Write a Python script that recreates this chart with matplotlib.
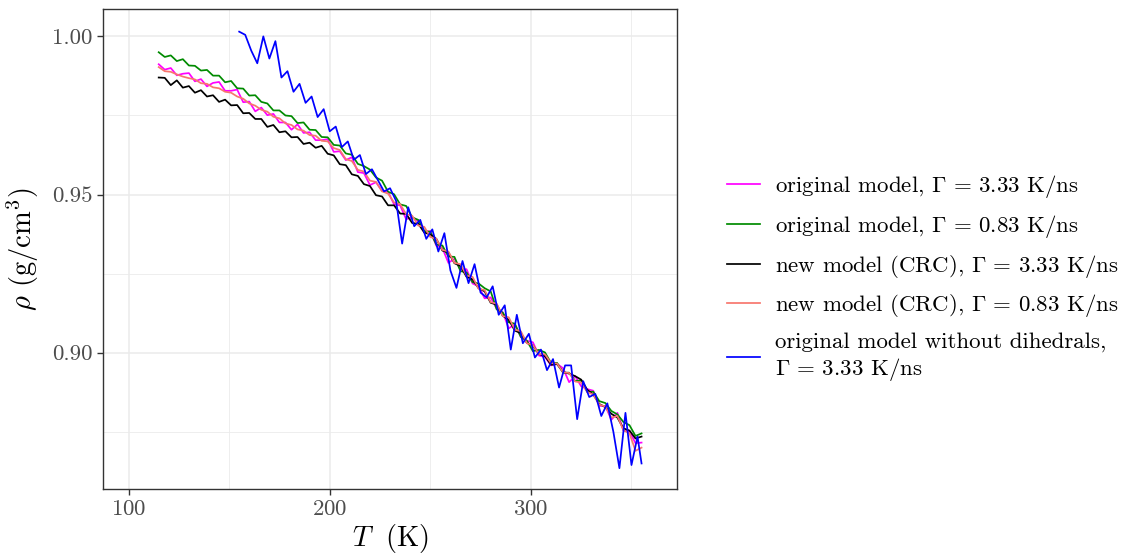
import matplotlib
matplotlib.use("Agg")
import matplotlib.pyplot as plt
from matplotlib.ticker import MultipleLocator

plt.rcParams['font.family'] = ['cmr10', 'DejaVu Serif']
plt.rcParams['mathtext.fontset'] = 'cm'
plt.rcParams['axes.formatter.use_mathtext'] = True
plt.rcParams['axes.unicode_minus'] = False

# ---------------- data ----------------
T = list(range(115, 356, 3))  # temperatures (K) for the four long runs

rho_orig_fast = [
    0.9912, 0.9895, 0.9900, 0.9877, 0.9882, 0.9884, 0.9858, 0.9865, 0.9842, 0.9853,
    0.9856, 0.9828, 0.9828, 0.9832, 0.9792, 0.9794, 0.9763, 0.9775, 0.9751, 0.9755,
    0.9728, 0.9728, 0.9705, 0.9722, 0.9695, 0.9697, 0.9672, 0.9672, 0.9675, 0.9635,
    0.9637, 0.9609, 0.9618, 0.9571, 0.9568, 0.9530, 0.9539, 0.9512, 0.9509, 0.9469,
    0.9466, 0.9422, 0.9428, 0.9416, 0.9381, 0.9385, 0.9338, 0.9331, 0.9284, 0.9297,
    0.9263, 0.9264, 0.9219, 0.9210, 0.9172, 0.9175, 0.9139, 0.9128, 0.9077, 0.9090,
    0.9050, 0.9038, 0.9033, 0.8991, 0.8987, 0.8960, 0.8965, 0.8951, 0.8907, 0.8926,
    0.8894, 0.8885, 0.8880, 0.8832, 0.8832, 0.8788, 0.8810, 0.8754, 0.8752, 0.8714,
    0.8716]

rho_orig_slow = [
    0.9950, 0.9935, 0.9940, 0.9922, 0.9928, 0.9908, 0.9907, 0.9892, 0.9894, 0.9876,
    0.9876, 0.9855, 0.9859, 0.9836, 0.9835, 0.9813, 0.9814, 0.9793, 0.9788, 0.9766,
    0.9766, 0.9750, 0.9748, 0.9726, 0.9728, 0.9705, 0.9704, 0.9682, 0.9681, 0.9657,
    0.9655, 0.9630, 0.9626, 0.9597, 0.9590, 0.9579, 0.9554, 0.9544, 0.9509, 0.9501,
    0.9469, 0.9464, 0.9428, 0.9420, 0.9385, 0.9382, 0.9342, 0.9339, 0.9304, 0.9303,
    0.9258, 0.9254, 0.9223, 0.9219, 0.9204, 0.9194, 0.9137, 0.9127, 0.9096, 0.9092,
    0.9050, 0.9038, 0.9005, 0.9009, 0.9001, 0.8968, 0.8968, 0.8937, 0.8937, 0.8911,
    0.8912, 0.8876, 0.8877, 0.8847, 0.8841, 0.8816, 0.8805, 0.8781, 0.8771, 0.8737,
    0.8745]

rho_new_fast = [
    0.9870, 0.9869, 0.9846, 0.9861, 0.9838, 0.9843, 0.9822, 0.9830, 0.9810, 0.9814,
    0.9793, 0.9800, 0.9782, 0.9783, 0.9757, 0.9758, 0.9739, 0.9739, 0.9714, 0.9720,
    0.9697, 0.9700, 0.9681, 0.9682, 0.9660, 0.9664, 0.9648, 0.9654, 0.9629, 0.9624,
    0.9596, 0.9593, 0.9564, 0.9559, 0.9533, 0.9527, 0.9498, 0.9494, 0.9466, 0.9466,
    0.9440, 0.9439, 0.9410, 0.9408, 0.9380, 0.9374, 0.9360, 0.9323, 0.9317, 0.9283,
    0.9274, 0.9240, 0.9232, 0.9204, 0.9194, 0.9158, 0.9152, 0.9117, 0.9104, 0.9070,
    0.9062, 0.9031, 0.9023, 0.8996, 0.8989, 0.8962, 0.8964, 0.8939, 0.8934, 0.8926,
    0.8915, 0.8883, 0.8868, 0.8838, 0.8828, 0.8807, 0.8795, 0.8761, 0.8754, 0.8729,
    0.8735]

rho_new_slow = [
    0.9903, 0.9890, 0.9888, 0.9880, 0.9873, 0.9868, 0.9864, 0.9852, 0.9850, 0.9839,
    0.9836, 0.9825, 0.9822, 0.9810, 0.9803, 0.9788, 0.9781, 0.9768, 0.9762, 0.9746,
    0.9741, 0.9725, 0.9720, 0.9706, 0.9702, 0.9688, 0.9686, 0.9670, 0.9668, 0.9647,
    0.9641, 0.9612, 0.9606, 0.9578, 0.9573, 0.9544, 0.9540, 0.9510, 0.9503, 0.9475,
    0.9470, 0.9438, 0.9433, 0.9402, 0.9398, 0.9366, 0.9360, 0.9325, 0.9320, 0.9284,
    0.9280, 0.9244, 0.9240, 0.9202, 0.9198, 0.9160, 0.9155, 0.9116, 0.9112, 0.9073,
    0.9068, 0.9030, 0.9024, 0.8996, 0.8995, 0.8967, 0.8966, 0.8938, 0.8936, 0.8909,
    0.8906, 0.8876, 0.8868, 0.8836, 0.8830, 0.8795, 0.8800, 0.8755, 0.8745, 0.8690,
    0.8700]

T_nodih = list(range(155, 354, 3)) + [355]
rho_nodih = [
    1.0015, 1.0005, 0.9955, 0.9915, 1.0000, 0.9930, 0.9985, 0.9870, 0.9890, 0.9825,
    0.9850, 0.9790, 0.9810, 0.9745, 0.9770, 0.9700, 0.9715, 0.9650, 0.9668, 0.9610,
    0.9625, 0.9565, 0.9580, 0.9545, 0.9510, 0.9520, 0.9480, 0.9345, 0.9460, 0.9400,
    0.9420, 0.9360, 0.9390, 0.9320, 0.9378, 0.9260, 0.9205, 0.9290, 0.9220, 0.9280,
    0.9190, 0.9175, 0.9210, 0.9120, 0.9150, 0.9010, 0.9120, 0.9030, 0.9060, 0.8985,
    0.9010, 0.8945, 0.8980, 0.8890, 0.8960, 0.8960, 0.8790, 0.8910, 0.8860, 0.8870,
    0.8800, 0.8840, 0.8750, 0.8635, 0.8810, 0.8645, 0.8735, 0.8650]

labels = [
    r"original model, $\Gamma\,=\,3.33$ K/ns",
    r"original model, $\Gamma\,=\,0.83$ K/ns",
    r"new model (CRC), $\Gamma\,=\,3.33$ K/ns",
    r"new model (CRC), $\Gamma\,=\,0.83$ K/ns",
    "original model without dihedrals,\n" + r"$\Gamma\,=\,3.33$ K/ns",
]
colors = ["#FF00FF", "#008B00", "#000000", "#F8766D", "#0000FF"]

# ---------------- figure ----------------
fig = plt.figure(figsize=(11.26, 5.55), dpi=100)
ax = fig.add_axes([0.0911, 0.1182, 0.6012 - 0.0911, 0.984 - 0.1182])

series = [(T, rho_orig_fast), (T, rho_orig_slow), (T, rho_new_fast),
          (T, rho_new_slow), (T_nodih, rho_nodih)]
handles = []
for (x, y), c, lab in zip(series, colors, labels):
    h, = ax.plot(x, y, color=c, lw=1.25, label=lab)
    handles.append(h)

ax.set_xlim(87.1, 372.6)
ax.set_ylim(0.8568, 1.0087)
ax.xaxis.set_major_locator(MultipleLocator(100))
ax.xaxis.set_minor_locator(MultipleLocator(50))
ax.yaxis.set_major_locator(MultipleLocator(0.05))
ax.yaxis.set_minor_locator(MultipleLocator(0.025))
ax.yaxis.set_major_formatter(matplotlib.ticker.FormatStrFormatter('%.2f'))

ax.grid(which='major', color='#EBEBEB', lw=1.1)
ax.grid(which='minor', color='#EBEBEB', lw=0.6)
ax.set_axisbelow(True)
for s in ax.spines.values():
    s.set_color('#333333')
    s.set_linewidth(1.0)
ax.tick_params(which='major', length=4.5, width=1.0, color='#333333',
               labelcolor='#4D4D4D', labelsize=16.5, pad=3)
ax.tick_params(which='minor', length=0)

ax.set_xlabel(r"$T\;$ (K)", fontsize=20.5, labelpad=2)
ax.set_ylabel(r"$\rho$ (g/cm$^3$)", fontsize=20.5, labelpad=8)

leg = fig.legend(handles=handles, loc='center left',
                 bbox_to_anchor=(727 / 1126, 1 - 278 / 555),
                 frameon=False, fontsize=16.5, handlelength=1.43,
                 handletextpad=0.65, labelspacing=0.55, borderpad=0,
                 borderaxespad=0)

fig.savefig("out.png", dpi=100)
